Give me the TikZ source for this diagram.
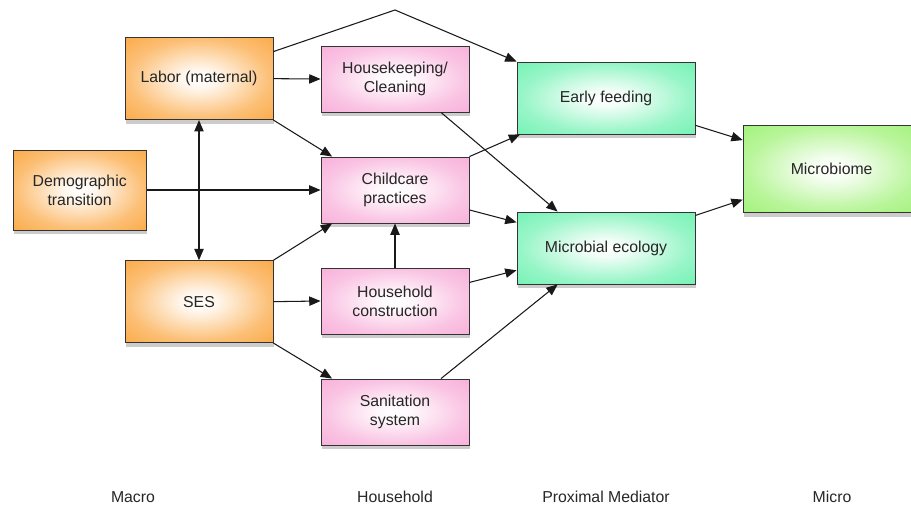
\documentclass[tikz,border=0pt]{standalone}
\usepackage{fontspec}
\setmainfont{Liberation Sans}
\usetikzlibrary{
    arrows.meta,
    positioning,
    calc,
    shadows
}

\definecolor{macroorange}{HTML}{FBAA48}
\definecolor{housepink}{HTML}{F8B0DA}
\definecolor{proxmint}{HTML}{74F2B4}
\definecolor{microlime}{HTML}{A2F27A}

\pgfdeclareradialshading{macroshade}{\pgfpointorigin}{%
    color(0bp)=(white); color(6bp)=(macroorange!10!white);
    color(24bp)=(macroorange!75!white); color(36bp)=(macroorange);
    color(100bp)=(macroorange)}
\pgfdeclareradialshading{houseshade}{\pgfpointorigin}{%
    color(0bp)=(white); color(6bp)=(housepink!10!white);
    color(24bp)=(housepink!75!white); color(36bp)=(housepink);
    color(100bp)=(housepink)}
\pgfdeclareradialshading{proxshade}{\pgfpointorigin}{%
    color(0bp)=(white); color(6bp)=(proxmint!10!white);
    color(24bp)=(proxmint!75!white); color(36bp)=(proxmint);
    color(100bp)=(proxmint)}
\pgfdeclareradialshading{microshade}{\pgfpointorigin}{%
    color(0bp)=(white); color(6bp)=(microlime!10!white);
    color(24bp)=(microlime!75!white); color(36bp)=(microlime);
    color(100bp)=(microlime)}

\begin{document}
\begin{tikzpicture}[
    every node/.style={
        font=\fontsize{13.5pt}{16pt}\selectfont,
        text=black!85
    },
    block/.style={
        rectangle,
        draw=black!80,
        line width=0.75pt,
        align=center,
        shade,
        drop shadow={
            shadow xshift=1pt,
            shadow yshift=-3.6pt,
            opacity=0.4
        }
    },
    macro/.style={
        block,
        shading=macroshade,
        minimum width=4.44cm,
        minimum height=2.46cm
    },
    household/.style={
        block,
        shading=houseshade,
        minimum width=4.44cm,
        minimum height=1.98cm
    },
    proximal/.style={
        block,
        shading=proxshade,
        minimum width=5.34cm,
        minimum height=2.16cm
    },
    microbox/.style={
        block,
        shading=microshade,
        minimum width=5.31cm,
        minimum height=2.61cm
    },
    arrow/.style={
        -{Triangle[length=3.4mm,width=2.8mm]},
        line width=0.9pt,
        draw=black!90
    },
    levellabel/.style={
        text=black!85
    }
]

\useasboundingbox (0,0) rectangle (27.33,-15.24);

% ===========================================================
% MACRO LEVEL
% ===========================================================

\node[macro] (labor) at (5.97,-2.36)
    {Labor (maternal)};

\node[macro, minimum width=3.99cm, minimum height=2.40cm] (demo) at (2.39,-5.70)
    {Demographic\\transition};

\node[macro] (ses) at (5.97,-9.05)
    {SES};

% ===========================================================
% HOUSEHOLD LEVEL
% ===========================================================

\node[household] (keeping) at (11.85,-2.37)
    {Housekeeping/\\Cleaning};

\node[household] (childcare) at (11.85,-5.70)
    {Childcare\\practices};

\node[household] (construct) at (11.85,-9.03)
    {Household\\construction};

\node[household] (sanit) at (11.85,-12.36)
    {Sanitation\\system};

% ===========================================================
% PROXIMAL MEDIATORS AND MICROBIOME
% ===========================================================

\node[proximal] (feeding) at (18.18,-2.94)
    {Early feeding};

\node[proximal] (ecology) at (18.18,-7.44)
    {Microbial ecology};

\node[microbox] (biome) at (24.95,-5.07)
    {Microbiome};

% Level labels along the bottom
\node[levellabel] (lvmacro) at (3.99,-14.91) {Macro};
\node[levellabel] (lvhouse) at (11.85,-14.91) {Household};
\node[levellabel] (lvprox) at (18.18,-14.91) {Proximal Mediator};
\node[levellabel] (lvmicro) at (24.96,-14.91) {Micro};

% ===========================================================
% CONNECTORS
% ===========================================================

% Macro factors into the household
\draw[arrow] (labor.east) -- (keeping.west);
\draw[arrow] (labor.south east) -- (childcare.152);
\draw[arrow] (demo.east) -- (childcare.west);
\draw[arrow] (ses.north east) -- (childcare.208);
\draw[arrow] (ses.east) -- (construct.west);
\draw[arrow] (ses.south east) -- (sanit.152);
\draw[arrow, {Triangle[length=3.4mm,width=2.8mm]}-{Triangle[length=3.4mm,width=2.8mm]}]
    (labor.south) -- (ses.north);

% Maternal labour straight to early feeding, over the top
\coordinate (peak) at (11.85,-0.30);
\draw[arrow] (labor.20) -- (peak) -- (feeding.north west);

% Household to proximal mediators
\draw[arrow] (construct.north) -- (childcare.south);
\draw[arrow] (keeping.-36) -- (ecology.143);
\draw[arrow] (childcare.north east) -- (feeding.203);
\draw[arrow] (childcare.-15) -- (ecology.164);
\draw[arrow] (construct.14) -- (ecology.194);
\draw[arrow] (sanit.36) -- (ecology.217);

% Proximal mediators to the microbiome
\draw[arrow] (feeding.-17) -- (biome.162);
\draw[arrow] (ecology.20) -- (biome.199);

\end{tikzpicture}
\end{document}
